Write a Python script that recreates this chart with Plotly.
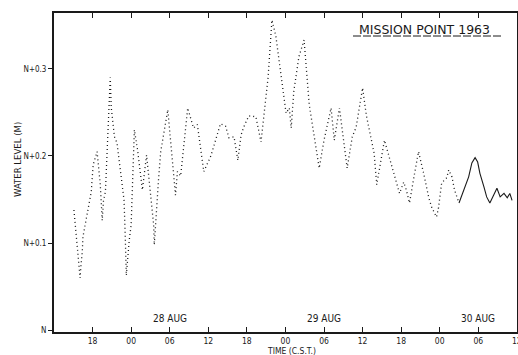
import plotly.graph_objects as go

# Time in hours from 27 Aug 00:00 (C.S.T.), water level above N (m)
hours_early = [15.1, 15.6, 15.75, 16.06, 16.2, 16.4, 16.5, 17.8, 17.9, 18.1, 18.7, 19.2, 19.5, 19.7,
               20.0, 20.4, 20.75, 20.9, 21.4, 21.8, 22.3, 22.9, 23.1, 23.25, 23.7, 24.0, 24.5, 25.0,
               25.75, 26.4, 27.5, 27.6, 28.25, 28.6, 29.7, 30.9, 31.2, 31.7, 32.8, 33.7, 34.3, 35.3,
               36.4, 37.9, 38.7, 39.2, 40.0, 40.6, 41.1, 41.5, 42.3, 43.4, 44.2, 44.7, 45.3, 45.9,
               46.5, 48.1, 48.6, 48.9, 49.3, 50.1, 50.9, 51.7, 52.0, 53.25, 54.0, 55.1, 55.6, 56.4,
               57.6, 58.4, 59.0, 60.0, 60.6, 61.8, 62.2, 63.4, 65.75, 66.4, 66.8, 67.3, 67.9, 68.4,
               68.7, 69.5, 70.0, 70.3, 70.75, 71.5, 71.8, 72.3, 73.1, 73.4, 73.9, 74.3, 75.0]
level_early = [0.138, 0.100, 0.083, 0.060, 0.075, 0.090, 0.107, 0.159, 0.170, 0.190, 0.205, 0.167,
               0.126, 0.149, 0.159, 0.224, 0.290, 0.256, 0.222, 0.215, 0.184, 0.149, 0.103, 0.063,
               0.103, 0.121, 0.230, 0.207, 0.161, 0.201, 0.121, 0.098, 0.172, 0.205, 0.253, 0.155,
               0.182, 0.177, 0.255, 0.232, 0.236, 0.182, 0.200, 0.237, 0.234, 0.221, 0.222, 0.195,
               0.224, 0.233, 0.246, 0.245, 0.216, 0.248, 0.290, 0.356, 0.338, 0.249, 0.255, 0.232,
               0.274, 0.314, 0.333, 0.259, 0.244, 0.186, 0.218, 0.255, 0.218, 0.255, 0.186, 0.222,
               0.233, 0.278, 0.246, 0.203, 0.167, 0.218, 0.157, 0.170, 0.161, 0.146, 0.172, 0.193,
               0.205, 0.180, 0.161, 0.152, 0.141, 0.130, 0.140, 0.169, 0.175, 0.184, 0.176, 0.161,
               0.146]
hours_late = [75.0, 75.75, 76.5, 77.0, 77.5, 77.9, 78.25, 78.9, 79.3, 79.8, 80.4, 80.9, 81.4, 82.0,
              82.5, 82.9, 83.25]
level_late = [0.146, 0.161, 0.176, 0.192, 0.198, 0.193, 0.180, 0.164, 0.153, 0.146, 0.155, 0.163,
              0.153, 0.157, 0.152, 0.157, 0.149]

tick_hours = [18, 24, 30, 36, 42, 48, 54, 60, 66, 72, 78, 84]
tick_text = ["18", "00", "06", "12", "18", "00", "06", "12", "18", "00", "06", "12"]
ytick_vals = [0, 0.1, 0.2, 0.3]
ytick_text = ["N", "N+0.1", "N+0.2", "N+0.3"]
day_labels = ["28 AUG", "29 AUG", "30 AUG"]
day_hours = [30, 54, 78]

ink = "#1a1a1a"
font = "DejaVu Sans Condensed, DejaVu Sans, sans-serif"
wide = "DejaVu Sans, sans-serif"

L, R, T, B = 54, 517, 13, 332
def px(xp):
    return (xp - L) / (R - L)
def py(yp):
    return (B - yp) / (B - T)

fig = go.Figure()
fig.add_trace(go.Scatter(x=hours_early, y=level_early, mode="lines",
                         line=dict(color=ink, width=1.3, dash="1px,3px"), showlegend=False))
fig.add_trace(go.Scatter(x=hours_late, y=level_late, mode="lines",
                         line=dict(color=ink, width=1.1), showlegend=False))

for lbl, h in zip(day_labels, day_hours):
    fig.add_annotation(x=h, y=0.014, text=lbl, showarrow=False, xref="x", yref="y",
                       font=dict(family=font, size=10, color=ink))

fig.add_annotation(x=px(424), y=py(29), xref="paper", yref="paper", text="MISSION POINT 1963",
                   showarrow=False, xanchor="center", yanchor="middle",
                   font=dict(family=wide, size=12.5, color=ink))
fig.add_shape(type="line", xref="paper", yref="paper",
              x0=px(353), x1=px(501), y0=py(36), y1=py(36),
              line=dict(color=ink, width=1, dash="8px,2px"))

fig.add_annotation(x=px(17), y=py(160), xref="paper", yref="paper", text="WATER LEVEL (M)",
                   showarrow=False, textangle=-90, xanchor="center", yanchor="middle",
                   font=dict(family=font, size=9.5, color=ink))
fig.add_annotation(x=px(291), y=py(350.5), xref="paper", yref="paper", text="TIME (C.S.T.)",
                   showarrow=False, xanchor="center", yanchor="middle",
                   font=dict(family=font, size=8.5, color=ink))

fig.update_layout(
    width=518, height=355,
    margin=dict(l=L, r=518 - R, t=T, b=355 - B, autoexpand=False),
    paper_bgcolor="white", plot_bgcolor="white",
    font=dict(family=font, size=9, color=ink),
    xaxis=dict(range=[12, 84.02], tickvals=tick_hours, ticktext=tick_text,
               ticks="inside", ticklen=5, tickwidth=1.2, tickcolor=ink,
               showline=True, linewidth=2, linecolor=ink, mirror="ticks",
               showgrid=False, zeroline=False, ticklabeloverflow="allow", automargin=False,
               tickfont=dict(size=8.5, family=font, color=ink)),
    yaxis=dict(range=[-0.002, 0.364], tickvals=ytick_vals, ticktext=ytick_text,
               ticks="outside", ticklen=4, tickwidth=1, tickcolor=ink,
               showline=True, linewidth=2, linecolor=ink, mirror=True, automargin=False,
               showgrid=False, zeroline=False,
               tickfont=dict(size=8, family=font, color=ink)),
)

fig.write_html("out.html")
